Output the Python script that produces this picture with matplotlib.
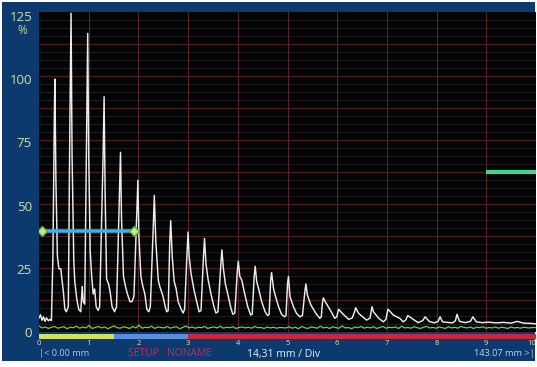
import numpy as np
import matplotlib
matplotlib.use("Agg")
import matplotlib.pyplot as plt
from matplotlib.patches import Rectangle

# ---------------- data ----------------
# A-scan echo trace: position in screen divisions, amplitude in %
trace_x = [0.00, 0.03, 0.06, 0.09, 0.12, 0.15, 0.19, 0.22, 0.25, 0.28, 0.31, 0.32,
           0.34, 0.37, 0.40, 0.44, 0.46, 0.49, 0.52, 0.55,
           0.59, 0.62, 0.645, 0.665, 0.70, 0.72, 0.76, 0.80, 0.84, 0.87, 0.89, 0.92,
           0.96, 0.98, 1.00, 1.03, 1.06, 1.09, 1.12, 1.15, 1.19, 1.22,
           1.29, 1.31, 1.33, 1.36, 1.40, 1.43, 1.47, 1.52, 1.56,
           1.62, 1.64, 1.66, 1.70, 1.74, 1.78, 1.83, 1.87, 1.91,
           1.97, 1.99, 2.01, 2.05, 2.09, 2.13, 2.17, 2.21, 2.24,
           2.30, 2.32, 2.35, 2.40, 2.43, 2.49, 2.54, 2.57, 2.60,
           2.63, 2.65, 2.68, 2.72, 2.76, 2.80, 2.86, 2.90, 2.93,
           2.98, 3.00, 3.02, 3.06, 3.12, 3.18, 3.22, 3.26,
           3.31, 3.33, 3.36, 3.40, 3.46, 3.52, 3.56, 3.60,
           3.66, 3.68, 3.71, 3.75, 3.81, 3.86, 3.90, 3.94,
           3.99, 4.01, 4.04, 4.08, 4.14, 4.20, 4.26, 4.29,
           4.33, 4.35, 4.38, 4.42, 4.48, 4.55, 4.60, 4.63,
           4.66, 4.68, 4.72, 4.76, 4.82, 4.88, 4.94, 4.97,
           5.00, 5.02, 5.05, 5.12, 5.18, 5.25, 5.30,
           5.35, 5.37, 5.40, 5.47, 5.57, 5.65, 5.68,
           5.70, 5.72, 5.78, 5.88, 5.95, 5.99,
           6.03, 6.10, 6.23, 6.30, 6.35, 6.37, 6.43, 6.59, 6.66,
           6.70, 6.73, 6.83, 6.93, 6.98, 7.02, 7.13, 7.26, 7.33, 7.38,
           7.42, 7.53, 7.63, 7.72, 7.77, 7.85, 7.95, 8.03, 8.07, 8.12,
           8.22, 8.32, 8.38, 8.41, 8.46, 8.58, 8.68, 8.73, 8.80, 8.92,
           9.05, 9.20, 9.35, 9.50, 9.62, 9.75, 9.90, 10.0]
trace_y = [5.5, 6.8, 4.6, 6.0, 4.2, 5.6, 4.4, 5.0, 4.5, 30, 88, 100,
           60, 30, 25, 25, 21, 16, 9, 8,
           10, 80, 126, 70, 28, 20, 13, 9, 8, 18, 12, 11,
           85, 118, 70, 32, 22, 15, 17, 10, 8.5, 10,
           70, 93, 55, 21, 19, 16, 10, 8, 10,
           55, 71, 45, 22, 18, 15, 12, 12, 14,
           48, 60, 38, 22, 18, 15, 9, 8, 10,
           42, 54, 36, 20.5, 18, 14.5, 10, 8, 8.5,
           35, 44, 30, 20, 17, 12, 9, 7.5, 9,
           32, 39.5, 30, 23, 16.5, 11.5, 8, 8.5,
           30, 37, 27, 21, 15, 10, 7.5, 8,
           27, 32.5, 25, 19, 14, 9.5, 7, 7.5,
           24, 28, 22, 20.5, 15, 10, 6.7, 7,
           22, 26, 20, 17, 12, 8, 6.5, 7,
           20, 23.5, 17, 14, 10, 7, 6, 6.5,
           19, 22, 14, 10, 7.4, 6, 6.5,
           16, 19, 14.6, 10.7, 7.4, 5.4, 6,
           11, 13.5, 11.3, 8, 5.4, 6,
           9, 7.4, 5, 5.5, 8, 9.6, 7.4, 4.7, 5.5,
           10, 8, 5.5, 4, 5, 9, 6.7, 5.4, 4, 4.8,
           6.5, 5, 3.7, 4.5, 6, 4.2, 3.6, 4.2, 6, 4,
           3.8, 3.6, 4.5, 7, 4.2, 3.7, 4.2, 6, 4, 3.7,
           3.9, 3.6, 3.8, 3.5, 4.2, 3.5, 3.4, 3.2]

# green noise/reference trace (%), evenly sampled over the screen width
noise_y = [2.4, 1.6, 2.0, 1.4, 1.9, 2.2, 1.5, 1.8, 2.1, 1.3, 1.9, 1.7, 2.3, 1.5, 2.0, 1.6,
           2.6, 1.4, 1.8, 2.2, 1.6, 2.0, 1.3, 1.9, 2.4, 1.7, 1.5, 2.1, 1.8, 1.4, 2.2, 1.6,
           2.7, 1.5, 1.9, 1.7, 2.3, 1.4, 2.0, 1.8, 1.6, 2.2, 1.5, 1.9, 2.1, 1.3, 1.8, 2.4,
           1.6, 2.0, 1.5, 1.9, 1.7, 2.2, 1.4, 1.8, 2.0, 1.6, 2.3, 1.5, 1.9, 1.7, 2.1, 1.4,
           1.8, 2.0, 1.6, 1.9, 1.5, 2.2, 1.7, 1.8, 1.4, 2.0, 1.6, 1.9, 1.5, 1.8, 1.7, 1.6,
           2.1, 1.5, 1.9, 1.3, 2.2, 1.7, 1.4, 2.0, 1.8, 1.5, 2.3, 1.6, 1.9, 1.4, 2.1, 1.7,
           1.5, 2.4, 1.6, 1.8, 1.3, 2.0, 1.7, 2.2, 1.5, 1.9, 1.6, 2.1, 1.4, 1.8, 2.2, 1.5,
           1.9, 1.7, 2.0, 1.4, 2.3, 1.6, 1.8, 1.5, 2.1, 1.7, 1.4, 1.9, 2.2, 1.6, 1.8, 1.5,
           2.0, 1.7, 1.4, 2.1, 1.6, 1.9, 1.5, 2.2, 1.8, 1.6, 2.0, 1.4, 1.9, 1.7, 2.1, 1.5,
           1.8, 1.6, 2.0, 1.5, 1.9, 1.7, 1.4, 2.0, 1.6, 1.8, 1.5, 1.9, 1.7, 1.6, 1.8, 1.7]

y_ticks = [0, 25, 50, 75, 100, 125]
y_labels = ["0", "25", "50", "75", "100", "125"]
x_ticks = [0, 1, 2, 3, 4, 5, 6, 7, 8, 9, 10]
x_labels = ["0", "1", "2", "3", "4", "5", "6", "7", "8", "9", "10"]

gate_a_start, gate_a_end, gate_a_level = 0.07, 1.92, 40.0
gate_b_start, gate_b_end, gate_b_level = 9.0, 10.0, 63.4

band_start = [0.0, 1.5, 3.0]
band_end = [1.5, 3.0, 10.0]
band_color = ["#d4e05c", "#5a8edc", "#c8283a"]

left_text = "|< 0.00 mm"
setup_text = "SETUP : NONAME"
div_text = "14,31 mm / Div"
right_text = "143.07 mm >|"

# ---------------- figure ----------------
W, H = 537, 367
FONT = ["Open Sans", "DejaVu Sans"]
plt.rcParams["font.family"] = FONT

fig = plt.figure(figsize=(W / 100, H / 100), dpi=100, facecolor="white")
fig.patches.append(Rectangle((2 / W, 1 - 361 / H), 533 / W, 359 / H,
                             transform=fig.transFigure, facecolor="#0c3a6e",
                             edgecolor="none", zorder=-10))

def fx(px):
    return px / W

def fy(py):
    return 1 - py / H

ax = fig.add_axes([fx(39), fy(332), 497 / W, 320 / H])
ax.set_facecolor("#040404")
YMAX = 126.5
ax.set_xlim(0, 10)
ax.set_ylim(0, YMAX)
for s in ax.spines.values():
    s.set_visible(False)

# grid: 10 horizontal divisions with 4 sub-lines each, 10 vertical divisions
step = YMAX / 10
for k in range(40):
    yv = k * step / 4
    if k % 4 == 0:
        if k > 0:
            ax.axhline(yv, color="#4c1e1e", lw=0.8, zorder=1)
    else:
        ax.axhline(yv, color="#20202a", lw=0.6, zorder=1)
for k in range(1, 10):
    ax.axvline(k, color="#562424", lw=0.8, zorder=1)

# traces
nx = np.linspace(0, 10, len(noise_y))
ax.plot(nx, noise_y, color="#7ccc44", lw=0.9, zorder=3)
ax.plot(trace_x, trace_y, color="#ececec", lw=1.05, zorder=4)

# gates
ax.plot([gate_a_start, gate_a_end], [gate_a_level, gate_a_level],
        color="#36b2ea", lw=2.6, zorder=5, solid_capstyle="butt")
ax.plot([gate_a_start, gate_a_end], [gate_a_level, gate_a_level], ls="none",
        marker="D", ms=5, mfc="#c4e88c", mec="#5aa83c", mew=1.0, zorder=6)
ax.plot([gate_b_start, gate_b_end], [gate_b_level, gate_b_level],
        color="#3ed48e", lw=3.0, zorder=5, solid_capstyle="butt", clip_on=False)

ax.set_xticks([])
ax.set_yticks(y_ticks)
ax.set_yticklabels(y_labels)
ax.tick_params(axis="y", length=0, pad=5, labelsize=9.5, labelcolor="#d2dea2")

fig.text(fx(22.5), fy(30), "%", ha="center", va="center", color="#bcd88c",
         fontsize=8.5)

# coloured band strip with division numbers
ax2 = fig.add_axes([fx(39), fy(338.5), 497 / W, 4.5 / H])
ax2.set_xlim(0, 10)
ax2.set_ylim(0, 1)
for s in ax2.spines.values():
    s.set_visible(False)
ax2.set_facecolor("none")
for b0, b1, c in zip(band_start, band_end, band_color):
    ax2.barh(0.5, b1 - b0, left=b0, height=1.0, color=c, edgecolor="none")
ax2.set_yticks([])
ax2.set_xticks(x_ticks)
ax2.set_xticklabels(x_labels)
ax2.tick_params(axis="x", length=0, pad=0.8, labelsize=5.5, labelcolor="#e2e2b4")
ax2.get_xticklabels()[-1].set_horizontalalignment("right")

# footer texts
fig.text(fx(39), fy(354), left_text, ha="left", va="center", color="#a9c6ee", fontsize=6.6)
fig.text(fx(170), fy(354), setup_text, ha="center", va="center", color="#b4305e", fontsize=7.5)
fig.text(fx(283.5), fy(354), div_text, ha="center", va="center", color="#e8eef8", fontsize=7.5)
fig.text(fx(535), fy(354), right_text, ha="right", va="center", color="#bcd4f2", fontsize=6.6)

fig.savefig("out.png", dpi=100, facecolor=fig.get_facecolor())
